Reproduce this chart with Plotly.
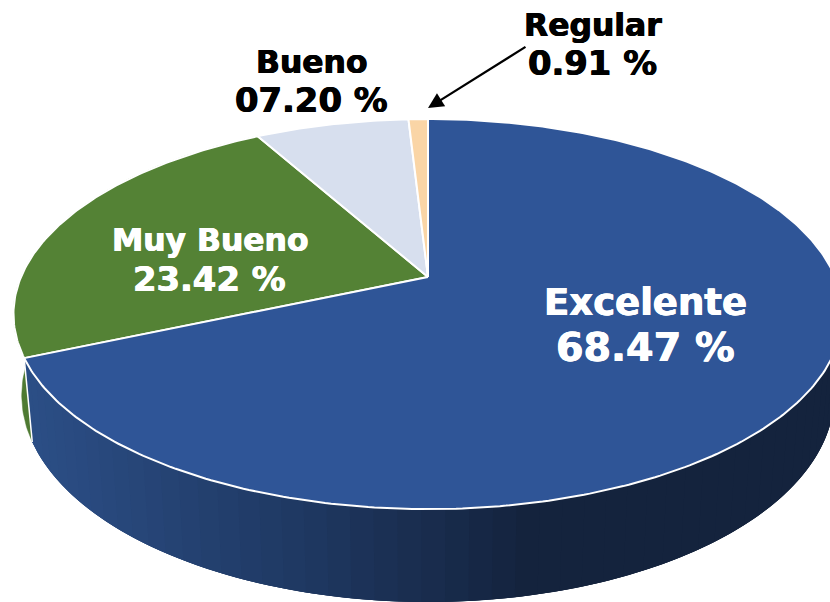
import numpy as np
import plotly.graph_objects as go

categories = ["Excelente", "Muy Bueno", "Bueno", "Regular"]
values = [68.47, 23.42, 7.20, 0.91]
pct_labels = ["68.47 %", "23.42 %", "07.20 %", "0.91 %"]
colors = ["#2F5597", "#548235", "#D7DFEE", "#FAD5A6"]

W, H = 830, 602
CX, CY = 428, 277          # projected centre of the disc
A, B, K = 407, 188, 0.19   # perspective of the top face
BOT_SX, BOT_SY, BOT_Y = 0.98, 1.06, 356  # bottom rim of the disc


def rim(theta):
    X, Y = np.sin(theta), -np.cos(theta)
    d = 1 - K * Y
    return A * X / d, B * Y / d


def top(theta):
    x, y = rim(theta)
    return CX + x, CY + y


def bottom(theta):
    x, y = rim(theta)
    return CX + BOT_SX * x, BOT_Y + BOT_SY * y


def wall_color(x):
    px = [0, 60, 300, 530, 830]
    r = np.interp(x, px, [44, 42, 31, 20, 20])
    g = np.interp(x, px, [80, 76, 56, 35, 35])
    b = np.interp(x, px, [136, 130, 98, 61, 61])
    return f"rgb({r:.0f},{g:.0f},{b:.0f})"


total = sum(values)
edges = np.concatenate([[0], np.cumsum(values) / total * 2 * np.pi])
fig = go.Figure()


def poly(xs, ys, fill, line, width, name):
    fig.add_trace(go.Scatter(x=xs, y=ys, mode="lines", fill="toself", fillcolor=fill,
                             line=dict(color=line, width=width), name=name,
                             hoverinfo="skip", showlegend=False))


# Green side wall (behind the blue one)
t = np.linspace(edges[1], edges[2], 120)
tx, ty = top(t)
bx, by = bottom(t)
poly(list(tx) + list(bx[::-1]), list(ty) + list(by[::-1]), "#4E7A32", "#4E7A32", 0.5, "wall")

# Blue side wall, painted in narrow bands for its gradient; each band runs on
# under the next so that no seam shows between them
bands = np.linspace(edges[0], edges[1], 91)
step = bands[1] - bands[0]
for a0 in bands[:-1]:
    t = np.linspace(a0, min(a0 + 3 * step, edges[1]), 8)
    tx, ty = top(t)
    bx, by = bottom(t)
    x_mid = top(a0 + step / 2)[0]
    c = wall_color(float(x_mid))
    poly(list(tx) + list(bx[::-1]), list(ty) + list(by[::-1]), c, c, 0, "wall")

# White seam down the wall at the end of the blue slice
sx0, sy0 = top(edges[1])
sx1, sy1 = bottom(edges[1])
fig.add_trace(go.Scatter(x=[sx0, sx1], y=[sy0, sy1], mode="lines",
                         line=dict(color="white", width=1.5), hoverinfo="skip", showlegend=False))

# Top face slices
for i in [1, 2, 3, 0]:
    n = max(8, int((edges[i + 1] - edges[i]) * 80))
    t = np.linspace(edges[i], edges[i + 1], n)
    tx, ty = top(t)
    poly([CX] + list(tx) + [CX], [CY] + list(ty) + [CY], colors[i], "white", 2, categories[i])

FONT = "DejaVu Sans"
label_specs = [
    (0, 645.5, 302, 347, 37, 39.6, "white"),
    (1, 209.5, 240, 279, 31.4, 33.8, "white"),
    (2, 311, 62, 100, 31.4, 33.8, "black"),
    (3, 592.5, 25, 63, 31.4, 33.8, "black"),
]
for i, x, y1, y2, size1, size2, col in label_specs:
    for text, y, size in ((categories[i], y1, size1), (pct_labels[i], y2, size2)):
        fig.add_annotation(x=x, y=y, text=f"<b>{text}</b>", showarrow=False,
                           xanchor="center", yanchor="middle",
                           font=dict(family=FONT, size=size, color=col,
                                     shadow=f"0.5px 0 0 {col}, -0.5px 0 0 {col}"))

fig.add_annotation(x=428, y=108, ax=527, ay=46, xref="x", yref="y", axref="x", ayref="y",
                   text="", showarrow=True, arrowhead=2, arrowsize=1.4, arrowwidth=2.2,
                   arrowcolor="black")

fig.update_layout(width=W, height=H, margin=dict(l=0, r=0, t=0, b=0),
                  paper_bgcolor="white", plot_bgcolor="white", showlegend=False,
                  xaxis=dict(range=[0, W], visible=False, fixedrange=True),
                  yaxis=dict(range=[H, 0], visible=False, fixedrange=True))
fig.write_html("out.html", config=dict(displayModeBar=False),
               post_script="document.body.style.margin='0';document.documentElement.style.overflow='hidden';")
